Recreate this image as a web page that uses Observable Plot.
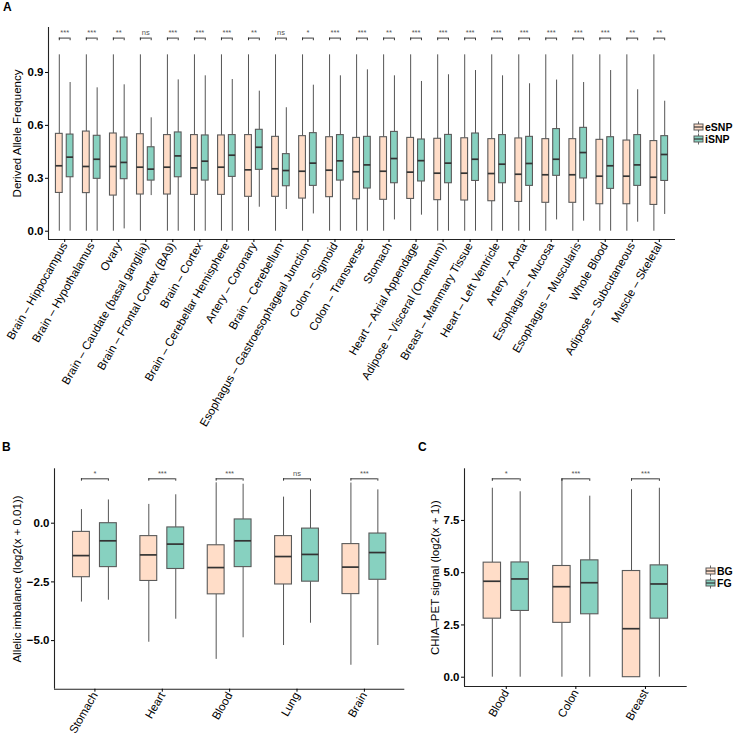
<!DOCTYPE html>
<html><head><meta charset="utf-8">
<script src="https://cdn.jsdelivr.net/npm/d3@7"></script>
<script src="https://cdn.jsdelivr.net/npm/@observablehq/plot@0.6"></script>
<style>
body{margin:0;background:#fff;}
#fig{position:relative;width:733px;height:736px;font-family:"Liberation Sans",Arial,sans-serif;color:#000;}
.panel{position:absolute;}
.tag{position:absolute;font-weight:bold;font-size:12px;line-height:12px;}
.legend{position:absolute;font-size:10.5px;font-weight:bold;line-height:12px;}
.legend div{display:flex;align-items:center;height:12px;}
.legend svg{margin-right:1px;}
svg [aria-label="y-axis tick label"] text{font-weight:bold;}
</style></head>
<body><div id="fig"></div>
<script>
// ---------- Panel A data ----------
const tissuesA = ["Brain – Hippocampus","Brain – Hypothalamus","Ovary","Brain – Caudate (basal ganglia)",
  "Brain – Frontal Cortex (BA9)","Brain – Cortex","Brain – Cerebellar Hemisphere","Artery – Coronary",
  "Brain – Cerebellum","Esophagus – Gastroesophageal Junction","Colon – Sigmoid","Colon – Transverse",
  "Stomach","Heart – Atrial Appendage","Adipose – Visceral (Omentum)","Breast – Mammary Tissue",
  "Heart – Left Ventricle","Artery – Aorta","Esophagus – Mucosa","Esophagus – Muscularis",
  "Whole Blood","Adipose – Subcutaneous","Muscle – Skeletal"];
const groupsA = ["eSNP","iSNP"];
// [lower whisker, Q1, median, Q3, upper whisker]
const esnpStats = [
  [0,0.217,0.371,0.552,1.0],[0,0.216,0.367,0.565,1.0],[0,0.202,0.367,0.554,1.0],[0,0.208,0.363,0.550,1.0],
  [0,0.208,0.363,0.545,1.0],[0,0.206,0.359,0.545,1.0],[0,0.206,0.363,0.543,1.0],[0,0.195,0.348,0.545,1.0],
  [0,0.195,0.354,0.535,1.0],[0,0.185,0.340,0.539,1.0],[0,0.193,0.346,0.533,1.0],[0,0.181,0.337,0.529,1.0],
  [0,0.178,0.340,0.533,1.0],[0,0.183,0.335,0.529,1.0],[0,0.176,0.329,0.524,1.0],[0,0.174,0.329,0.527,1.0],
  [0,0.170,0.327,0.522,1.0],[0,0.166,0.323,0.526,1.0],[0,0.161,0.320,0.522,1.0],[0,0.161,0.320,0.522,1.0],
  [0,0.153,0.312,0.518,1.0],[0,0.153,0.312,0.514,1.0],[0,0.149,0.306,0.511,1.0]];
const isnpStats = [
  [0,0.306,0.420,0.548,0.843],[0,0.297,0.408,0.541,0.813],[0.013,0.295,0.390,0.531,0.830],[0.202,0.287,0.352,0.476,0.643],
  [0,0.306,0.427,0.560,0.858],[0,0.287,0.397,0.543,0.881],[0,0.308,0.431,0.545,0.860],[0.136,0.348,0.476,0.575,0.794],
  [0.123,0.255,0.344,0.437,0.700],[0.098,0.257,0.386,0.556,0.828],[0,0.287,0.399,0.545,0.881],[0,0.242,0.376,0.535,0.915],
  [0.064,0.272,0.412,0.563,0.881],[0.091,0.282,0.400,0.520,0.849],[0,0.272,0.386,0.546,0.887],[0,0.285,0.408,0.554,0.911],
  [0,0.272,0.380,0.545,0.881],[0,0.257,0.384,0.535,0.836],[0.064,0.314,0.408,0.579,0.857],[0.057,0.299,0.446,0.586,0.843],
  [0,0.240,0.371,0.533,0.911],[0.051,0.257,0.376,0.545,0.802],[0.095,0.285,0.435,0.539,0.737]];
const sigA = ["***","***","**","ns","***","***","***","**","ns","*","***","***",
  "**","***","***","***","***","***","***","***","***","**","**"];
const yTicksA = [0, 0.3, 0.6, 0.9];

// ---------- Panel B data ----------
const tissuesB = ["Stomach","Heart","Blood","Lung","Brain"];
const groupsBC = ["BG","FG"];
const bgStatsB = [[-3.36,-2.30,-1.38,-0.37,0.58],[-5.07,-2.46,-1.35,-0.55,0.80],[-5.80,-3.03,-1.89,-0.94,1.72],
  [-5.21,-2.61,-1.42,-0.55,1.11],[-6.05,-3.02,-1.87,-0.89,1.71]];
const fgStatsB = [[-3.28,-1.87,-0.75,0.00,0.99],[-4.09,-1.95,-0.89,-0.18,1.21],[-4.88,-1.87,-0.75,0.16,1.66],
  [-4.26,-2.49,-1.33,-0.23,1.42],[-5.21,-2.41,-1.25,-0.44,1.42]];
const sigB = ["*","***","***","ns","***"];
const yTicksB = [-5, -2.5, 0];

// ---------- Panel C data ----------
const tissuesC = ["Blood","Colon","Breast"];
const bgStatsC = [[0,2.80,4.59,5.48,9.04],[0,2.60,4.33,5.32,9.47],[0,0,2.32,5.08,8.97]];
const fgStatsC = [[0,3.17,4.70,5.49,8.87],[0,3.01,4.52,5.59,8.66],[0,2.80,4.46,5.35,9.04]];
const sigC = ["*","***","***"];
const yTicksC = [0, 2.5, 5, 7.5];

const fills = ["#FFDDC8", "#87D1C0"];

function boxPanel(o) {
  const n = o.cats.length;
  const rows = [];
  o.stats.forEach((s, g) => s.forEach((v, i) => rows.push({
    i, xc: i + (g ? 0.2 : -0.2), group: o.groups[g], lo: v[0], q1: v[1], med: v[2], q3: v[3], hi: v[4]})));
  const sig = o.sig.map((label, i) => ({i, label}));
  const tips = sig.flatMap(d => [{x: d.i - 0.2}, {x: d.i + 0.2}]);
  const xDom = [-0.6, n - 0.4];
  const hw = 0.125;
  return Plot.plot({
    width: o.width, height: o.height,
    marginLeft: o.m[0], marginRight: o.m[1], marginTop: o.m[2], marginBottom: o.m[3],
    style: {fontFamily: "Liberation Sans, Arial, sans-serif", fontSize: "11px", color: "#000", background: "transparent", overflow: "visible"},
    x: {domain: xDom, axis: null},
    y: {domain: o.yDomain, axis: null},
    color: {domain: o.groups, range: fills},
    marks: [
      Plot.ruleX(rows, {x: "xc", y1: "lo", y2: "q1", stroke: "#555", strokeWidth: 1}),
      Plot.ruleX(rows, {x: "xc", y1: "q3", y2: "hi", stroke: "#555", strokeWidth: 1}),
      Plot.rect(rows, {x1: d => d.xc - hw, x2: d => d.xc + hw, y1: "q1", y2: "q3", fill: "group", stroke: "#5a5a5a", strokeWidth: 1.1}),
      Plot.ruleY(rows, {x1: d => d.xc - hw, x2: d => d.xc + hw, y: "med", stroke: "#333", strokeWidth: 1.7}),
      Plot.ruleY(sig, {x1: d => d.i - 0.2, x2: d => d.i + 0.2, y: () => o.bracketY, stroke: "#222", strokeWidth: 0.9}),
      Plot.ruleX(tips, {x: "x", y1: () => o.bracketY - o.tip, y2: () => o.bracketY, stroke: "#222", strokeWidth: 0.9}),
      Plot.text(sig, {x: "i", y: () => o.bracketY, text: "label", dy: -3, lineAnchor: "bottom", fontSize: 7.5, fill: "#555"}),
      Plot.ruleX([xDom[0]], {stroke: "#222", strokeWidth: 1.1}),
      Plot.ruleY([o.yDomain[0]], {stroke: "#222", strokeWidth: 1.1}),
      Plot.axisX({ticks: d3.range(n), tickFormat: i => o.cats[i], tickRotate: -60, tickSize: 3, tickPadding: 1, label: null, fontSize: 11.5}),
      Plot.axisY({ticks: o.yTicks, tickFormat: d3.format(".1f"), tickSize: 3, tickPadding: 2, fontSize: 11.5,
        label: o.yLabel, labelAnchor: "center", labelArrow: "none", labelOffset: o.labelOffset})
    ]
  });
}

const fig = document.getElementById("fig");
function place(el, left, top) { el.classList.add("panel"); el.style.left = left + "px"; el.style.top = top + "px"; fig.appendChild(el); return el; }

place(boxPanel({cats: tissuesA, stats: [esnpStats, isnpStats], groups: groupsA, sig: sigA,
  yDomain: [-0.047, 1.155], yTicks: yTicksA, yLabel: "Derived Allele Frequency",
  width: 733, height: 430, m: [48, 58, 27, 191], labelOffset: 36, bracketY: 1.095, tip: 0.015}), 0, 0);

place(boxPanel({cats: tissuesB, stats: [bgStatsB, fgStatsB], groups: groupsBC, sig: sigB,
  yDomain: [-7.07, 2.317], yTicks: yTicksB, yLabel: "Allelic imbalance (log2(x + 0.01))",
  width: 410, height: 296, m: [54, 5.7, 28.3, 47.3], labelOffset: 42, bracketY: 1.89, tip: 0.1}), 0, 440);

place(boxPanel({cats: tissuesC, stats: [bgStatsC, fgStatsC], groups: groupsBC, sig: sigC,
  yDomain: [-0.445, 9.97], yTicks: yTicksC, yLabel: "CHIA–PET signal (log2(x + 1))",
  width: 323, height: 296, m: [54, 46.3, 28.3, 50], labelOffset: 34, bracketY: 9.49, tip: 0.12}), 410, 440);

function tag(t, left, top) { const d = document.createElement("div"); d.className = "tag"; d.textContent = t; d.style.left = left + "px"; d.style.top = top + "px"; fig.appendChild(d); }
tag("A", 3, 1); tag("B", 2, 441); tag("C", 418, 441);

function legend(groups, left, top) {
  const d = document.createElement("div"); d.className = "legend"; d.style.left = left + "px"; d.style.top = top + "px";
  groups.forEach((g, k) => {
    const row = document.createElement("div");
    row.innerHTML = `<svg width="11" height="12"><line x1="5.5" x2="5.5" y1="0.5" y2="11.5" stroke="#666"/><rect x="1" y="3" width="9" height="6" fill="${fills[k]}" stroke="#5a5a5a"/><line x1="1" x2="10" y1="6" y2="6" stroke="#333" stroke-width="1.2"/></svg><span>${g}</span>`;
    d.appendChild(row);
  });
  fig.appendChild(d);
}
legend(groupsA, 693, 121);
legend(groupsBC, 705, 565);
</script>
</body></html>
